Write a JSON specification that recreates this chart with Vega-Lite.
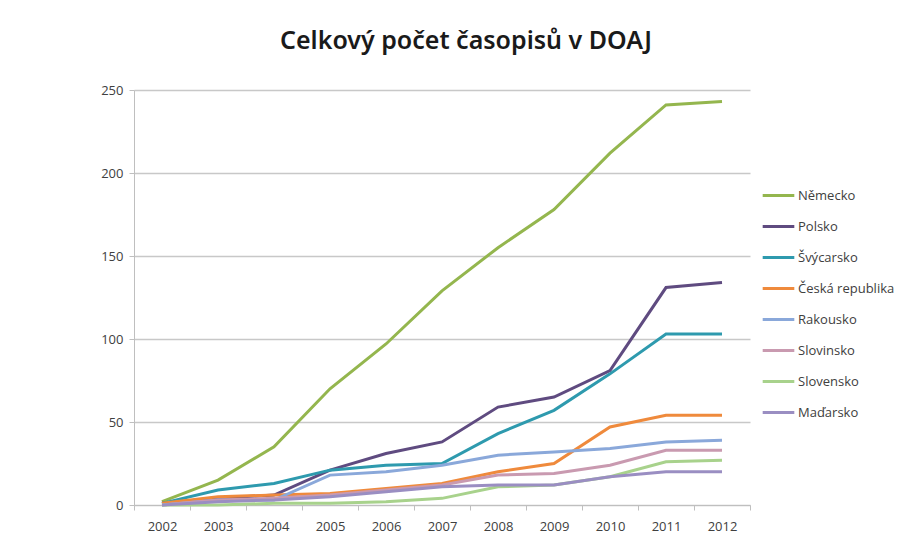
{
  "$schema": "https://vega.github.io/schema/vega-lite/v6.json",
  "autosize": {"type": "none"},
  "width": 616,
  "height": 415,
  "padding": {"left": 134, "top": 90, "right": 165, "bottom": 42},
  "background": "white",
  "title": {
    "text": "Celkový počet časopisů v DOAJ",
    "font": "Noto Sans",
    "fontSize": 25,
    "fontWeight": 600,
    "color": "#1a1a1a",
    "anchor": "middle",
    "dx": 24,
    "offset": 30
  },
  "data": {
    "values": [
      {"country": "Německo", "year": "2002", "count": 2},
      {"country": "Německo", "year": "2003", "count": 15},
      {"country": "Německo", "year": "2004", "count": 35},
      {"country": "Německo", "year": "2005", "count": 70},
      {"country": "Německo", "year": "2006", "count": 97},
      {"country": "Německo", "year": "2007", "count": 129},
      {"country": "Německo", "year": "2008", "count": 155},
      {"country": "Německo", "year": "2009", "count": 178},
      {"country": "Německo", "year": "2010", "count": 212},
      {"country": "Německo", "year": "2011", "count": 241},
      {"country": "Německo", "year": "2012", "count": 243},
      {"country": "Polsko", "year": "2002", "count": 1},
      {"country": "Polsko", "year": "2003", "count": 4},
      {"country": "Polsko", "year": "2004", "count": 6},
      {"country": "Polsko", "year": "2005", "count": 21},
      {"country": "Polsko", "year": "2006", "count": 31},
      {"country": "Polsko", "year": "2007", "count": 38},
      {"country": "Polsko", "year": "2008", "count": 59},
      {"country": "Polsko", "year": "2009", "count": 65},
      {"country": "Polsko", "year": "2010", "count": 81},
      {"country": "Polsko", "year": "2011", "count": 131},
      {"country": "Polsko", "year": "2012", "count": 134},
      {"country": "Švýcarsko", "year": "2002", "count": 1},
      {"country": "Švýcarsko", "year": "2003", "count": 9},
      {"country": "Švýcarsko", "year": "2004", "count": 13},
      {"country": "Švýcarsko", "year": "2005", "count": 21},
      {"country": "Švýcarsko", "year": "2006", "count": 24},
      {"country": "Švýcarsko", "year": "2007", "count": 25},
      {"country": "Švýcarsko", "year": "2008", "count": 43},
      {"country": "Švýcarsko", "year": "2009", "count": 57},
      {"country": "Švýcarsko", "year": "2010", "count": 79},
      {"country": "Švýcarsko", "year": "2011", "count": 103},
      {"country": "Švýcarsko", "year": "2012", "count": 103},
      {"country": "Česká republika", "year": "2002", "count": 1},
      {"country": "Česká republika", "year": "2003", "count": 5},
      {"country": "Česká republika", "year": "2004", "count": 6},
      {"country": "Česká republika", "year": "2005", "count": 7},
      {"country": "Česká republika", "year": "2006", "count": 10},
      {"country": "Česká republika", "year": "2007", "count": 13},
      {"country": "Česká republika", "year": "2008", "count": 20},
      {"country": "Česká republika", "year": "2009", "count": 25},
      {"country": "Česká republika", "year": "2010", "count": 47},
      {"country": "Česká republika", "year": "2011", "count": 54},
      {"country": "Česká republika", "year": "2012", "count": 54},
      {"country": "Rakousko", "year": "2002", "count": 0},
      {"country": "Rakousko", "year": "2003", "count": 3},
      {"country": "Rakousko", "year": "2004", "count": 3},
      {"country": "Rakousko", "year": "2005", "count": 18},
      {"country": "Rakousko", "year": "2006", "count": 20},
      {"country": "Rakousko", "year": "2007", "count": 24},
      {"country": "Rakousko", "year": "2008", "count": 30},
      {"country": "Rakousko", "year": "2009", "count": 32},
      {"country": "Rakousko", "year": "2010", "count": 34},
      {"country": "Rakousko", "year": "2011", "count": 38},
      {"country": "Rakousko", "year": "2012", "count": 39},
      {"country": "Slovinsko", "year": "2002", "count": 0},
      {"country": "Slovinsko", "year": "2003", "count": 3},
      {"country": "Slovinsko", "year": "2004", "count": 4},
      {"country": "Slovinsko", "year": "2005", "count": 6},
      {"country": "Slovinsko", "year": "2006", "count": 9},
      {"country": "Slovinsko", "year": "2007", "count": 12},
      {"country": "Slovinsko", "year": "2008", "count": 18},
      {"country": "Slovinsko", "year": "2009", "count": 19},
      {"country": "Slovinsko", "year": "2010", "count": 24},
      {"country": "Slovinsko", "year": "2011", "count": 33},
      {"country": "Slovinsko", "year": "2012", "count": 33},
      {"country": "Slovensko", "year": "2002", "count": 0},
      {"country": "Slovensko", "year": "2003", "count": 0},
      {"country": "Slovensko", "year": "2004", "count": 1},
      {"country": "Slovensko", "year": "2005", "count": 1},
      {"country": "Slovensko", "year": "2006", "count": 2},
      {"country": "Slovensko", "year": "2007", "count": 4},
      {"country": "Slovensko", "year": "2008", "count": 11},
      {"country": "Slovensko", "year": "2009", "count": 12},
      {"country": "Slovensko", "year": "2010", "count": 17},
      {"country": "Slovensko", "year": "2011", "count": 26},
      {"country": "Slovensko", "year": "2012", "count": 27},
      {"country": "Maďarsko", "year": "2002", "count": 0},
      {"country": "Maďarsko", "year": "2003", "count": 2},
      {"country": "Maďarsko", "year": "2004", "count": 3},
      {"country": "Maďarsko", "year": "2005", "count": 5},
      {"country": "Maďarsko", "year": "2006", "count": 8},
      {"country": "Maďarsko", "year": "2007", "count": 11},
      {"country": "Maďarsko", "year": "2008", "count": 12},
      {"country": "Maďarsko", "year": "2009", "count": 12},
      {"country": "Maďarsko", "year": "2010", "count": 17},
      {"country": "Maďarsko", "year": "2011", "count": 20},
      {"country": "Maďarsko", "year": "2012", "count": 20}
    ]
  },
  "mark": {"type": "line", "strokeWidth": 3, "strokeJoin": "miter"},
  "encoding": {
    "x": {
      "field": "year",
      "type": "ordinal",
      "scale": {"type": "band", "paddingInner": 0, "paddingOuter": 0},
      "axis": {
        "title": null,
        "labelAngle": 0,
        "tickBand": "extent",
        "grid": false,
        "domainColor": "#BFBFBF",
        "tickColor": "#BFBFBF",
        "tickSize": 5,
        "labelFont": "Open Sans",
        "labelFontSize": 13,
        "labelColor": "#404040",
        "labelPadding": 10
      }
    },
    "y": {
      "field": "count",
      "type": "quantitative",
      "scale": {"domain": [0, 250], "nice": false},
      "axis": {
        "title": null,
        "values": [0, 50, 100, 150, 200, 250],
        "gridColor": "#C8C8C8",
        "gridWidth": 1.5,
        "domainColor": "#BFBFBF",
        "tickColor": "#BFBFBF",
        "tickSize": 5,
        "labelFont": "Open Sans",
        "labelFontSize": 13,
        "labelColor": "#404040",
        "labelPadding": 6
      }
    },
    "color": {
      "field": "country",
      "type": "nominal",
      "sort": ["Německo", "Polsko", "Švýcarsko", "Česká republika", "Rakousko", "Slovinsko", "Slovensko", "Maďarsko"],
      "scale": {
        "domain": ["Německo", "Polsko", "Švýcarsko", "Česká republika", "Rakousko", "Slovinsko", "Slovensko", "Maďarsko"],
        "range": ["#94B64E", "#5F4B80", "#2E9AAE", "#EF8A3C", "#8AA8DA", "#C99AB0", "#A8D28C", "#9A8EC2"]
      },
      "legend": {
        "title": null,
        "orient": "none",
        "legendX": 627,
        "legendY": 88,
        "symbolType": "stroke",
        "symbolStrokeWidth": 3,
        "symbolSize": 1000,
        "rowPadding": 6,
        "labelFont": "Open Sans",
        "labelFontSize": 13,
        "labelColor": "#404040",
        "labelOffset": 2
      }
    }
  },
  "config": {"view": {"stroke": null}}
}
